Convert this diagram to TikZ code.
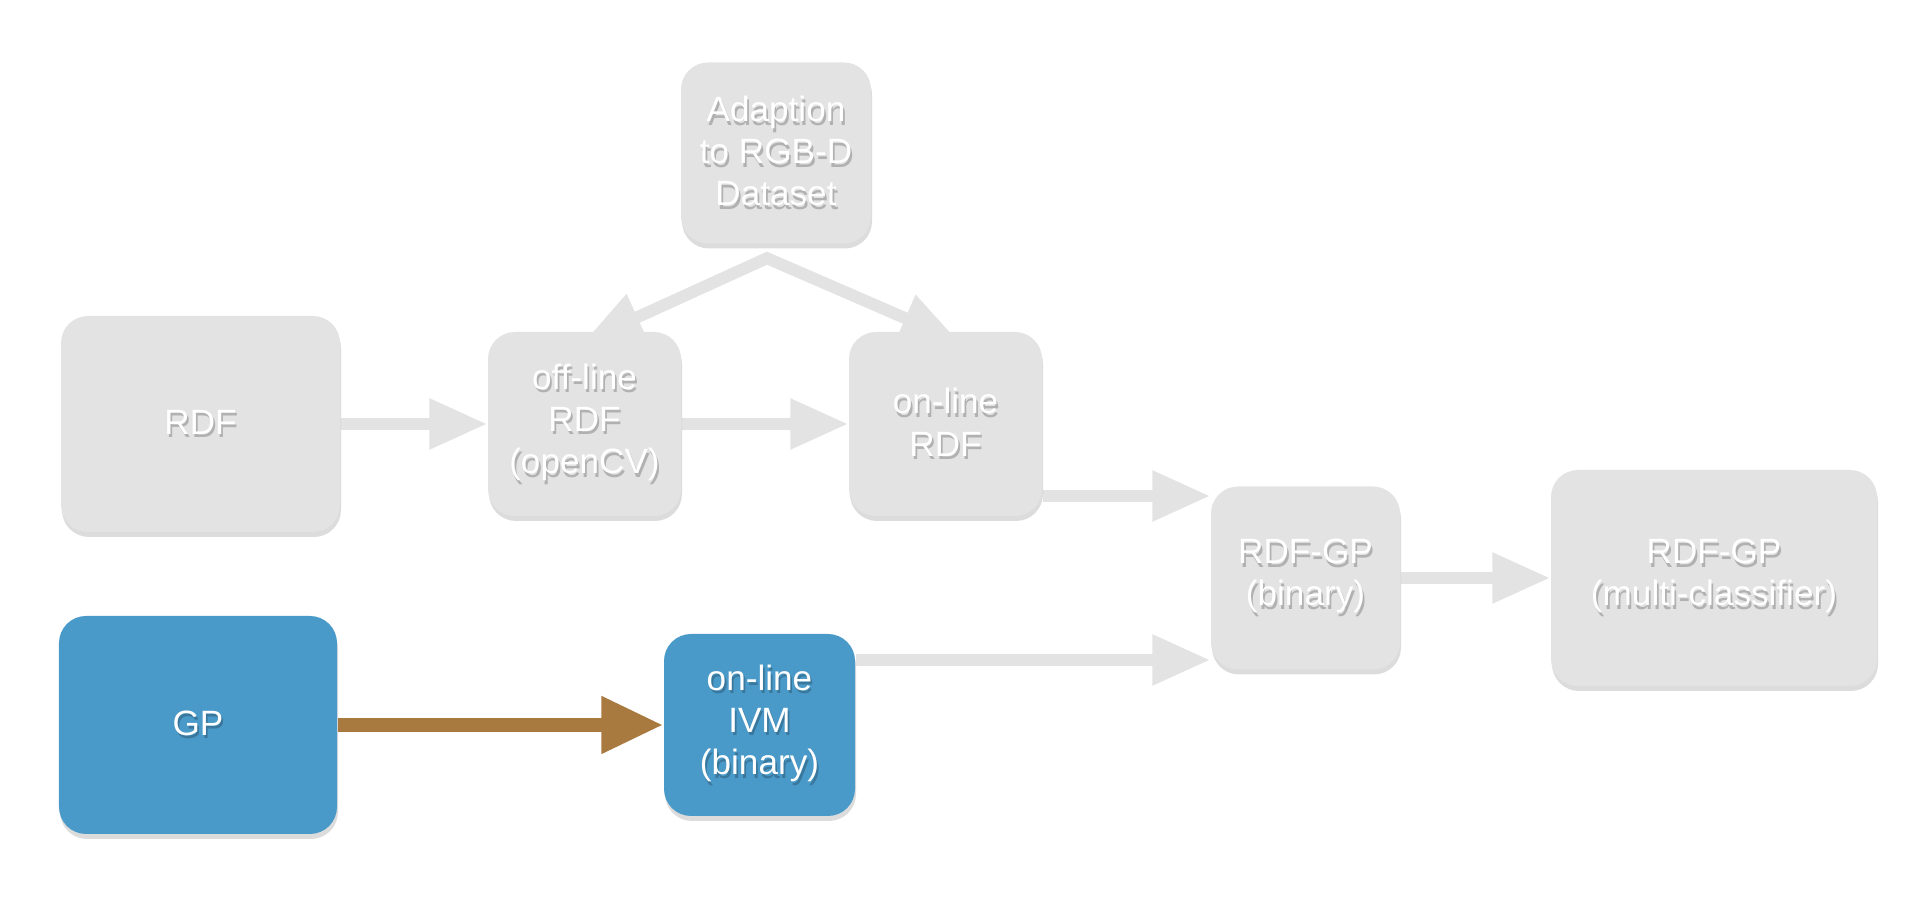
\documentclass[tikz,border=0pt]{standalone}
\usepackage{fontspec}
\setmainfont{Liberation Sans}
\usetikzlibrary{arrows.meta}
\usetikzlibrary{backgrounds}
\usetikzlibrary{shadows}

\definecolor{boxgrey}{HTML}{E3E3E3}
\definecolor{boxblue}{HTML}{4A9AC9}
\definecolor{arrowbrown}{HTML}{A87A40}

\begin{document}
\begin{tikzpicture}
            \tikzstyle{box}=[rectangle,rounded corners=0.27cm,fill=boxgrey,text=white,align=center,inner sep=0pt,font=\fontsize{10}{12}\selectfont,drop shadow={shadow xshift=0.01cm,shadow yshift=-0.05cm,opacity=0.3,fill=black!45}]
            \tikzstyle{bluebox}=[box,fill=boxblue]
            \tikzstyle{edge}=[draw=boxgrey,line width=0.12cm,-{Triangle[length=0.58cm,width=0.48cm]}]
            \tikzstyle{forkedge}=[edge,{Triangle[length=0.58cm,width=0.48cm]}-{Triangle[length=0.58cm,width=0.48cm]}]
            \tikzstyle{gpedge}=[draw=arrowbrown,line width=0.14cm,-{Triangle[length=0.62cm,width=0.54cm]}]

            \def\sh#1{\leavevmode\rlap{\pgfsetfillopacity{0.22}\raisebox{-1pt}{\hspace{0.5pt}\textcolor{black}{#1}}\pgfsetfillopacity{1}}#1}

            \def\rowa{4.74}
            \def\rowb{3.20}
            \def\rowc{1.73}

            \useasboundingbox (0,0) rectangle (19.24,8.98);

            \node[box,minimum width=1.90cm,minimum height=1.81cm] (adapt)  at (7.76,7.45)    {\sh{Adaption}\\\sh{to RGB-D}\\\sh{Dataset}};
            \node[box,minimum width=2.79cm,minimum height=2.16cm] (rdf)    at (2.005,\rowa)  {\sh{RDF}};
            \node[box,minimum width=1.93cm,minimum height=1.84cm] (offrdf) at (5.845,\rowa)  {\sh{off-line}\\\sh{RDF}\\\sh{(openCV)}};
            \node[box,minimum width=1.93cm,minimum height=1.84cm] (onrdf)  at (9.455,\rowa)  {\sh{on-line}\\\sh{RDF}};
            \node[box,minimum width=1.89cm,minimum height=1.83cm] (rdfgp)  at (13.055,\rowb) {\sh{RDF-GP}\\\sh{(binary)}};
            \node[box,minimum width=3.26cm,minimum height=2.16cm] (multi)  at (17.14,\rowb)  {\sh{RDF-GP}\\\sh{(multi-classifier)}};
            \node[bluebox,minimum width=2.78cm,minimum height=2.18cm] (gp)  at (1.98,\rowc)   {\sh{GP}};
            \node[bluebox,minimum width=1.91cm,minimum height=1.82cm] (ivm) at (7.595,\rowc)  {\sh{on-line}\\\sh{IVM}\\\sh{(binary)}};

            \begin{scope}[on background layer]
            \path[edge] (rdf) -- (offrdf);
            \path[edge] (offrdf) -- (onrdf);
            \path[forkedge] ([yshift=-0.1cm]offrdf.north) -- ([xshift=-0.09cm,yshift=-0.14cm]adapt.south) -- ([xshift=0.13cm,yshift=-0.1cm]onrdf.north);

            \path[edge] ([yshift=-0.72cm]onrdf.east) -- ([yshift=-0.72cm]onrdf.east -| rdfgp.west);
            \path[edge] ([yshift=0.65cm]ivm.east) -- ([yshift=0.65cm]ivm.east -| rdfgp.west);
            \path[edge] (rdfgp) -- (multi);

            \path[gpedge] (gp) -- (ivm);
            \end{scope}
        \end{tikzpicture}
\end{document}
